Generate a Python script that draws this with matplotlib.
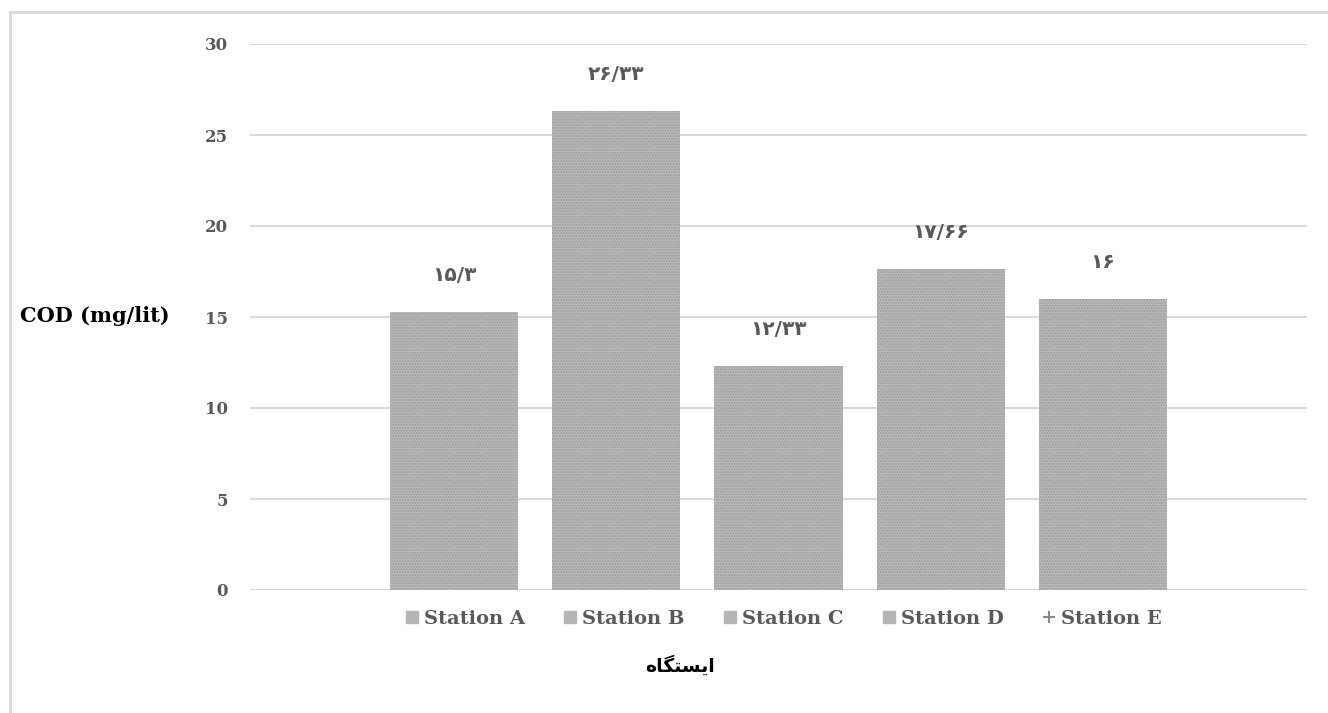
import matplotlib.pyplot as plt
from matplotlib.lines import Line2D

stations = ["Station A", "Station B", "Station C", "Station D", "Station E"]
cod = [15.3, 26.33, 12.33, 17.66, 16]
y_ticks = [0, 5, 10, 15, 20, 25, 30]
y_label = "COD (mg/lit)"
# "ایستگاه" in presentation forms, visual order (matplotlib does no shaping)
x_label = "\uFEE9\uFE8E\uFB95\uFE98\uFEB4\uFBFE\uFE8D"

persian = str.maketrans("0123456789.", "۰۱۲۳۴۵۶۷۸۹/")

def fa(v):
    return ("%g" % v).translate(persian)

plt.rcParams['font.family'] = ['DejaVu Serif', 'DejaVu Sans']

fig = plt.figure(figsize=(13.28, 7.13), dpi=100)
ax = fig.add_axes([250/1328, 1-590/713, 1057/1328, 546/713])

x = list(range(len(stations)))
bars = ax.bar(x, cod, width=0.79, color="#bababa", edgecolor="#9c9c9c",
              linewidth=0, hatch="......", zorder=2)

for xi, v in zip(x, cod):
    ax.annotate(fa(v), (xi, v), xytext=(0, 19), textcoords="offset points",
                ha="center", va="bottom", fontsize=14.5, fontweight="bold",
                color="#595959", family=['DejaVu Sans'])

ax.set_xlim(-1.26, 5.26)
ax.set_ylim(0, 30)
ax.set_yticks(y_ticks)
ax.set_xticks([])
ax.grid(axis="y", color="#d9d9d9", linewidth=1.5, zorder=0)
for s in ax.spines.values():
    s.set_visible(False)
ax.tick_params(axis="y", length=0, pad=16, labelsize=12, labelcolor="#595959")
for t in ax.get_yticklabels():
    t.set_fontweight("bold")

fig.text(20/1328, 1-316/713, y_label, ha="left", va="center",
         fontsize=15, fontweight="bold", color="black")
fig.text(680/1328, 1-665/713, x_label, ha="center", va="center",
         fontsize=13.5, fontweight="bold", color="black", family=['DejaVu Sans'])

handles = [Line2D([], [], marker="s", linestyle="none", markersize=8,
                  color="#b5b5b5") for _ in stations[:-1]]
handles.append(Line2D([], [], marker="+", linestyle="none", markersize=9,
                      color="#8a8a8a", markeredgewidth=1.5))
leg = fig.legend(handles, stations, loc="center", ncol=5,
                 bbox_to_anchor=(782/1328, 1-619/713), frameon=False,
                 handletextpad=0.1, columnspacing=1.85, handlelength=1.0,
                 prop={'family': 'DejaVu Serif', 'weight': 'bold', 'size': 14})
for t in leg.get_texts():
    t.set_color("#595959")

fig.add_artist(Line2D([10/1328, 10/1328], [0, 1-12/713], color="#d9d9d9",
                      linewidth=2, transform=fig.transFigure))
fig.add_artist(Line2D([10/1328, 1], [1-12/713, 1-12/713], color="#d9d9d9",
                      linewidth=2, transform=fig.transFigure))

fig.savefig("out.png", dpi=100)
